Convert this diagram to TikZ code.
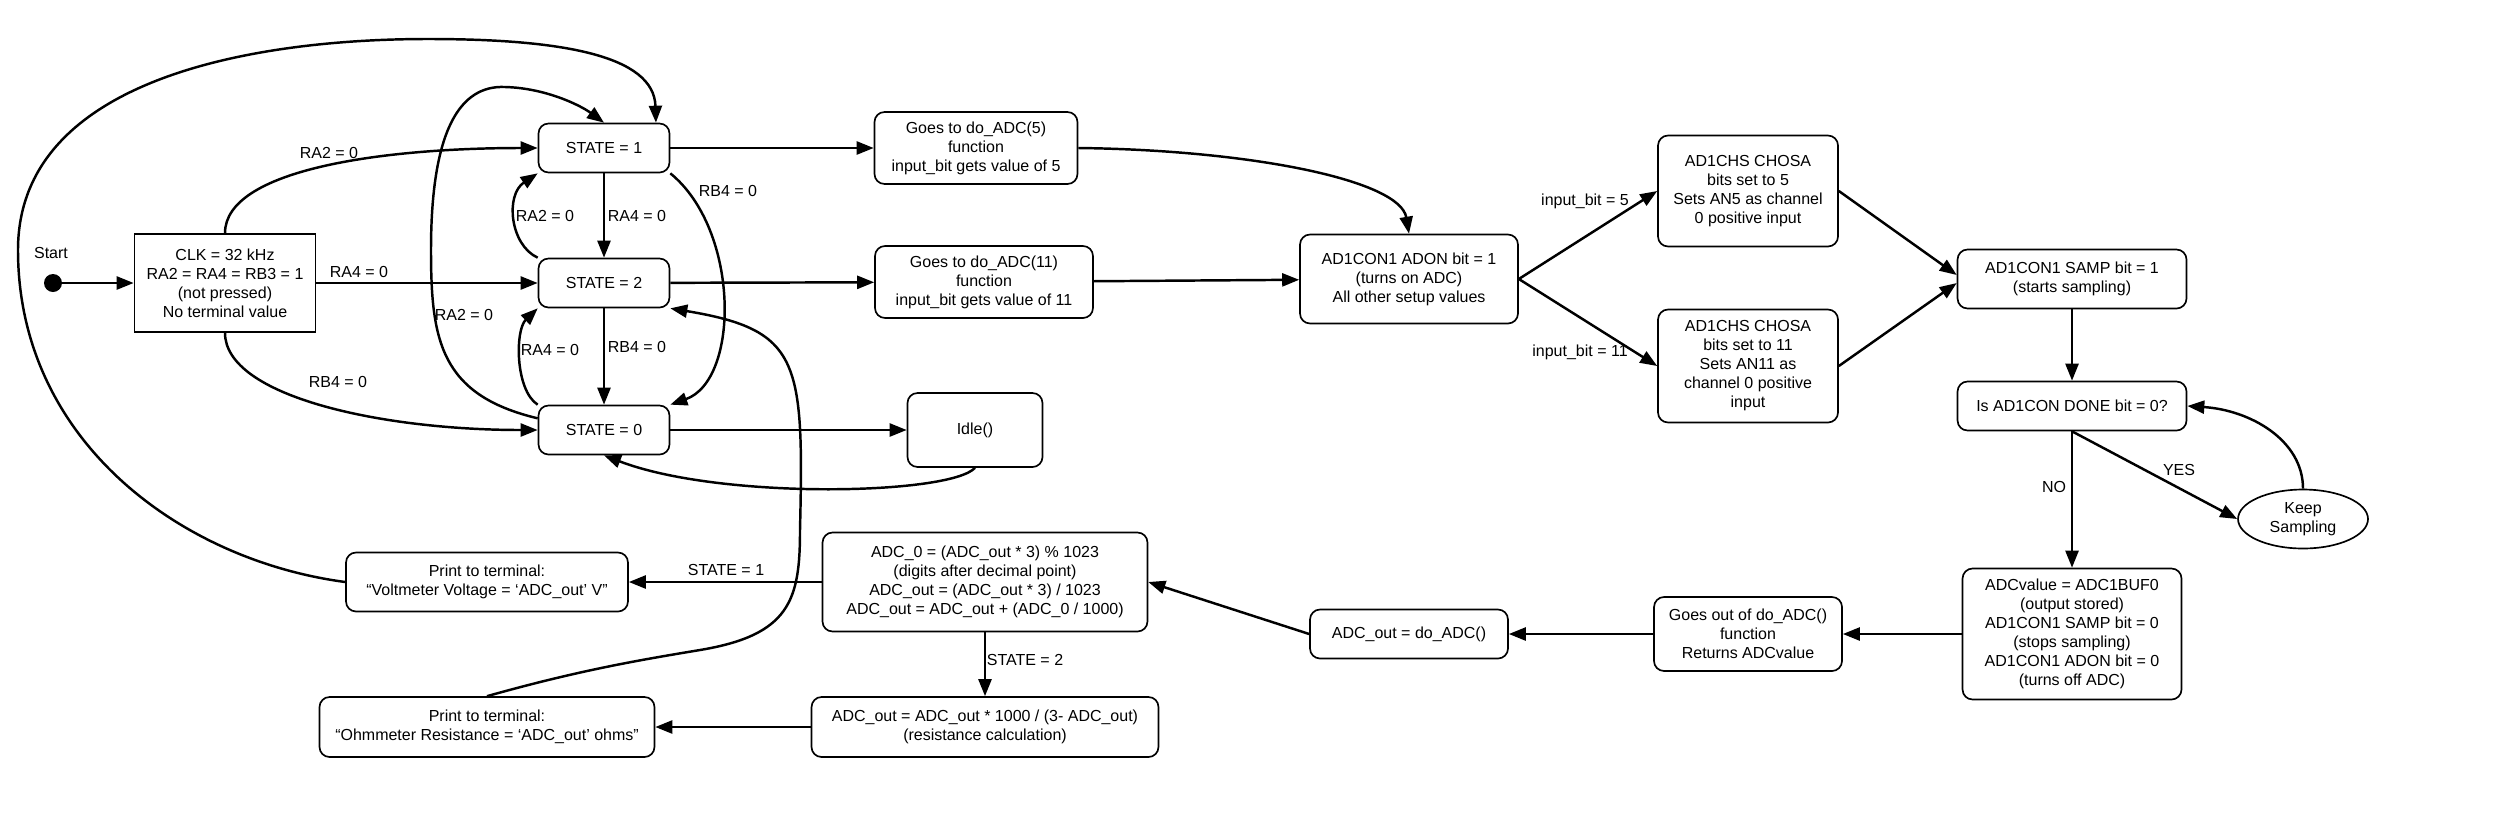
\documentclass[tikz,border=0pt]{standalone}
\usepackage{fontspec}
\setmainfont{Liberation Sans}
\usetikzlibrary{arrows.meta,shapes.geometric}

\tikzset{
    box/.style={draw, line width=0.95pt, rounded corners=0.2cm, align=center, inner sep=1pt},
    plainbox/.style={draw, line width=0.95pt, align=center, inner sep=1pt},
    oval/.style={draw, ellipse, line width=0.95pt, align=center, inner sep=0pt},
    dot/.style={circle, fill, inner sep=0pt, minimum size=0.36cm},
    lbl/.style={inner sep=1pt},
    arr/.style={line width=1.4pt, -{Triangle[length=0.34cm, width=0.26cm]}},
    wh/.style 2 args={minimum width=#1cm, minimum height=#2cm},
}

\begin{document}
\begin{tikzpicture}[x=0.02cm, y=-0.02cm, font=\fontsize{9.1}{10.8}\selectfont]
    \fill[white] (0,0) rectangle (2500,819);
    \useasboundingbox (0,0) rectangle (2500,819);

    % Depart et etats
    \node[dot] (start) at (53,283) {};
    \node[lbl] (startlbl) at (51,253) {Start};
    \node[plainbox, wh={3.62}{1.96}] (init) at (225,283) {CLK = 32 kHz\\RA2 = RA4 = RB3 = 1\\(not pressed)\\No terminal value};
    \node[box, wh={2.62}{0.98}] (s1) at (604,148) {STATE = 1};
    \node[box, wh={2.62}{0.98}] (s2) at (604,283) {STATE = 2};
    \node[box, wh={2.62}{0.98}] (s0) at (604,430) {STATE = 0};

    % Fonctions
    \node[box, wh={4.06}{1.44}] (adc5) at (976,148) {Goes to do\_ADC(5)\\function\\input\_bit gets value of 5};
    \node[box, wh={4.36}{1.44}] (adc11) at (984,282) {Goes to do\_ADC(11)\\function\\input\_bit gets value of 11};
    \node[box, wh={2.70}{1.48}] (idle) at (975,430) {Idle()};

    % Module ADC
    \node[box, wh={4.36}{1.78}] (adon) at (1409,279) {AD1CON1 ADON bit = 1\\(turns on ADC)\\All other setup values};
    \node[box, wh={3.60}{2.22}] (chs5) at (1748,191) {AD1CHS CHOSA\\bits set to 5\\Sets AN5 as channel\\0 positive input};
    \node[box, wh={3.60}{2.26}] (chs11) at (1748,366) {AD1CHS CHOSA\\bits set to 11\\Sets AN11 as\\channel 0 positive\\input};
    \node[box, wh={4.58}{1.18}] (samp) at (2072,279) {AD1CON1 SAMP bit = 1\\(starts sampling)};
    \node[box, wh={4.58}{0.98}] (done) at (2072,406) {Is AD1CON DONE bit = 0?};
    \node[oval, wh={2.60}{1.18}] (keep) at (2303,519) {Keep\\Sampling};
    \node[box, wh={4.38}{2.62}] (adcval) at (2072,634) {ADCvalue = ADC1BUF0\\(output stored)\\AD1CON1 SAMP bit = 0\\(stops sampling)\\AD1CON1 ADON bit = 0\\(turns off ADC)};
    \node[box, wh={3.76}{1.48}] (goesout) at (1748,634) {Goes out of do\_ADC()\\function\\Returns ADCvalue};
    \node[box, wh={3.96}{0.98}] (adcout) at (1409,634) {ADC\_out = do\_ADC()};

    % Calculs et affichage
    \node[box, wh={6.50}{1.98}] (calc0) at (985,582) {ADC\_0 = (ADC\_out * 3) \% 1023\\(digits after decimal point)\\ADC\_out = (ADC\_out * 3) / 1023\\ADC\_out = ADC\_out + (ADC\_0 / 1000)};
    \node[box, wh={6.94}{1.20}] (res) at (985,727) {ADC\_out = ADC\_out * 1000 / (3- ADC\_out)\\(resistance calculation)};
    \node[box, wh={5.64}{1.18}] (volt) at (487,582) {Print to terminal:\\“Voltmeter Voltage = ‘ADC\_out’ V”};
    \node[box, wh={6.70}{1.20}] (ohm) at (487,727) {Print to terminal:\\“Ohmmeter Resistance = ‘ADC\_out’ ohms”};

    % Transitions des etats
    \draw[arr] (start) -- (init);
    \draw[arr] (init.north) .. controls (225,170) and (380,148) .. (s1.west);
    \draw[arr] (init) -- (s2);
    \draw[arr] (init.south) .. controls (225,396) and (380,430) .. (s0.west);
    \draw[arr] (s1) -- (s2);
    \draw[arr] (s2) -- (s0);
    \draw[arr] (s2.north west) .. controls (510,245) and (505,195) .. (s1.south west);
    \draw[arr] (s0.north west) .. controls (515,390) and (515,330) .. (s2.south west);
    \draw[arr] (s1.south east) .. controls (740,230) and (740,380) .. (s0.north east);
    \draw[arr] (s0.170) .. controls (440,395) and (431,340) .. (431,250)
        .. controls (431,130) and (460,85) .. (505,87)
        .. controls (545,88) and (580,105) .. (s1.north);
    \node[lbl] (lInitS1) at (329,153) {RA2 = 0};
    \node[lbl] (lInitS2) at (359,272) {RA4 = 0};
    \node[lbl] (lInitS0) at (338,382) {RB4 = 0};
    \node[lbl] (lLoop) at (464,315) {RA2 = 0};
    \node[lbl] (lS2S1) at (545,216) {RA2 = 0};
    \node[lbl] (lS1S2) at (637,216) {RA4 = 0};
    \node[lbl] (lS0S2) at (550,350) {RA4 = 0};
    \node[lbl] (lS2S0) at (637,347) {RB4 = 0};
    \node[lbl] (lS1S0) at (728,191) {RB4 = 0};

    % Vers les fonctions
    \draw[arr] (s1) -- (adc5);
    \draw[arr] (s2) -- (adc11);
    \draw[arr] (s0) -- (idle);
    \draw[arr] (idle.south) .. controls (950,495) and (720,500) .. (s0.south);
    \draw[arr] (adc5.east) .. controls (1250,150) and (1400,180) .. (adon.north);
    \draw[arr] (adc11) -- (adon);

    % Conversion
    \draw[arr] (adon.east) -- (chs5.west);
    \draw[arr] (adon.east) -- (chs11.west);
    \node[lbl] (lBit5) at (1585,201) {input\_bit = 5};
    \node[lbl] (lBit11) at (1580,352) {input\_bit = 11};
    \draw[arr] (chs5.east) -- (samp.178);
    \draw[arr] (chs11.east) -- (samp.182);
    \draw[arr] (samp) -- (done);
    \draw[arr] (done.south) -- (adcval.north);
    \draw[arr] (done.south) -- (keep.west);
    \draw[arr] (keep.north) .. controls (2303,440) and (2250,410) .. (done.east);
    \node[lbl] (lNo) at (2054,487) {NO};
    \node[lbl] (lYes) at (2179,470) {YES};
    \draw[arr] (adcval) -- (goesout);
    \draw[arr] (goesout) -- (adcout);
    \draw[arr] (adcout.west) -- (calc0.east);

    % Resultats
    \draw[arr] (calc0) -- (volt);
    \node[lbl] (lState1) at (726,570) {STATE = 1};
    \draw[arr] (calc0) -- (res);
    \node[lbl] (lState2) at (1025,660) {STATE = 2};
    \draw[arr] (res) -- (ohm);
    \draw[arr] (volt.west) .. controls (180,560) and (18,440) .. (18,250)
        .. controls (18,80) and (250,39) .. (428,39)
        .. controls (560,39) and (654,55) .. (s1.26);
    \draw[arr] (ohm.north) .. controls (580,670) and (640,660) .. (700,650)
        .. controls (790,635) and (800,600) .. (800,530)
        .. controls (804,360) and (800,330) .. (s2.south east);
\end{tikzpicture}
\end{document}
